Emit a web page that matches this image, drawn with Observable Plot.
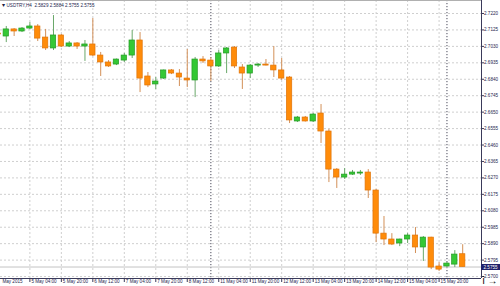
<!DOCTYPE html>
<html>
<head>
<meta charset="utf-8">
<script src="https://cdn.jsdelivr.net/npm/d3@7"></script>
<script src="https://cdn.jsdelivr.net/npm/@observablehq/plot@0.6"></script>
<style>
  html, body { margin: 0; padding: 0; background: #fff; }
  #chart svg { display: block; }
</style>
</head>
<body>
<div id="chart"></div>
<script>
// ---- Data (USDTRY, H4 bars, 4 May 12:00 – 18 May 00:00, 2015) ----
const symbol = "USDTRY,H4";
const opens  = [2.7104,2.7087,2.7128,2.7116,2.7133,2.7145,2.7081,2.7018,2.7093,2.7029,
                2.7047,2.7029,2.7041,2.6977,2.6937,2.6925,2.6948,2.6977,2.7064,2.6856,
                2.6810,2.6844,2.6891,2.6873,2.6844,2.6833,2.6954,2.6948,2.6914,2.6989,
                2.7023,2.6908,2.6873,2.6919,2.6925,2.6919,2.6891,2.6850,2.6596,2.6619,
                2.6596,2.6642,2.6538,2.6318,2.6272,2.6289,2.6295,2.6301,2.6197,2.5948,
                2.5914,2.5891,2.5914,2.5937,2.5868,2.5925,2.5758,2.5758,2.5769,2.5829];
const highs  = [2.7110,2.7145,2.7133,2.7139,2.7168,2.7156,2.7128,2.7208,2.7099,2.7058,
                2.7052,2.7064,2.7191,2.6995,2.6948,2.6957,2.6989,2.7122,2.7110,2.6879,
                2.6850,2.6893,2.6896,2.6896,2.7012,2.6966,2.6971,2.6966,2.7006,2.7023,
                2.7029,2.6925,2.6925,2.6931,2.6954,2.7029,2.6960,2.6856,2.6625,2.6625,
                2.6642,2.6694,2.6550,2.6324,2.6324,2.6313,2.6313,2.6318,2.6203,2.6047,
                2.5948,2.5916,2.5948,2.5983,2.5931,2.5927,2.5781,2.5781,2.5850,2.5884];
const lows   = [2.7093,2.7052,2.7087,2.7110,2.7128,2.7058,2.7006,2.7006,2.7023,2.7023,
                2.7012,2.6943,2.6971,2.6856,2.6908,2.6919,2.6937,2.6960,2.6763,2.6792,
                2.6781,2.6839,2.6867,2.6798,2.6792,2.6734,2.6931,2.6827,2.6908,2.6873,
                2.6902,2.6781,2.6844,2.6908,2.6917,2.6850,2.6833,2.6584,2.6590,2.6593,
                2.6590,2.6469,2.6243,2.6209,2.6261,2.6284,2.6284,2.6151,2.5896,2.5879,
                2.5879,2.5873,2.5891,2.5833,2.5787,2.5740,2.5729,2.5752,2.5752,2.5755];
const closes = [2.7099,2.7128,2.7116,2.7133,2.7145,2.7075,2.7018,2.7093,2.7029,2.7047,
                2.7029,2.7041,2.6977,2.6937,2.6914,2.6954,2.6977,2.7064,2.6844,2.6804,
                2.6827,2.6891,2.6873,2.6850,2.6833,2.6954,2.6943,2.6914,2.6989,2.7018,
                2.6914,2.6873,2.6919,2.6925,2.6919,2.6891,2.6844,2.6602,2.6619,2.6596,
                2.6636,2.6538,2.6318,2.6272,2.6289,2.6301,2.6301,2.6197,2.5948,2.5914,
                2.5885,2.5914,2.5937,2.5868,2.5925,2.5752,2.5740,2.5775,2.5827,2.5755];

const xTickIdx    = [0,4,8,12,16,20,24,28,32,36,40,44,48,52,56];
const xTickLabels = ["May 2015","5 May 04:00","5 May 20:00","6 May 12:00","7 May 04:00",
                     "7 May 20:00","8 May 12:00","11 May 04:00","11 May 20:00","12 May 12:00",
                     "13 May 04:00","13 May 20:00","14 May 12:00","15 May 04:00","15 May 20:00"];
const yTicks = [2.7220,2.7125,2.7030,2.6935,2.6840,2.6745,2.6650,2.6555,2.6460,
                2.6365,2.6270,2.6175,2.6080,2.5985,2.5890,2.5795,2.5700];
const separatorIdx = [27, 57]; // weekly period separators

// ---- Build table ----
const bars = opens.map((o, i) => ({i, o, h: highs[i], l: lows[i], c: closes[i], up: closes[i] >= o}));
const last = bars[bars.length - 1];
const fmt = d3.format(".4f");
const header = `${symbol}  ${fmt(last.o)} ${fmt(last.h)} ${fmt(last.l)} ${fmt(last.c)}`;
const xTicks = xTickIdx.map((i, k) => ({i, label: xTickLabels[k]}));

const W = 500, H = 286, mR = 19, mB = 8;
const xDomain = [0.267, 61.39];
const yDomain = [2.56887, 2.72951];
const pxPerBar = (W - mR) / (xDomain[1] - xDomain[0]);
const font = "Liberation Sans, Arial, sans-serif";
const txt = "#262650";
const navy = "#20206a";
const green = "#35c835", greenEdge = "#249a24", greenWick = "#6aa86a";
const orange = "#ff8c0a", orangeEdge = "#e07408", orangeWick = "#d39058";

const chart = Plot.plot({
  width: W, height: H,
  marginLeft: 0, marginRight: mR, marginTop: 0, marginBottom: mB,
  style: {fontFamily: font, background: "#fff"},
  x: {type: "linear", domain: xDomain, axis: null},
  y: {type: "linear", domain: yDomain, axis: null},
  marks: [
    // grid
    Plot.ruleY(yTicks, {stroke: "#cfcfcf", strokeDasharray: "2,2"}),
    Plot.ruleX(xTickIdx.slice(1), {stroke: "#cfcfcf", strokeDasharray: "2,2"}),
    // period separators
    Plot.ruleX(separatorIdx, {stroke: "#4a4a5a", strokeDasharray: "1.2,1.8"}),
    // current price line
    Plot.ruleY([last.c], {stroke: "#c4c4c4"}),
    // wicks
    Plot.ruleX(bars, {x: "i", y1: "l", y2: "h", stroke: d => d.up ? greenWick : orangeWick, strokeWidth: 1}),
    // bodies
    Plot.rect(bars, {
      x1: d => d.i - 0.34, x2: d => d.i + 0.34,
      y1: d => Math.min(d.o, d.c), y2: d => Math.max(d.o, d.c),
      fill: d => d.up ? green : orange,
      stroke: d => d.up ? greenEdge : orangeEdge, strokeWidth: 0.7
    }),
    // frame lines
    Plot.ruleY([yDomain[0]], {stroke: "#3a3a5a"}),
    Plot.ruleX([xDomain[1]], {stroke: "#3a3a5a"}),
    Plot.ruleY([yDomain[1]], {stroke: "#b0b0b0"}),
    // right price axis
    Plot.axisY(yTicks, {anchor: "right", tickSize: 2, tickPadding: 0.5, tickFormat: fmt,
      fontSize: 4.6, fill: txt, stroke: "#3a3a5a"}),
    // bottom time axis ticks + labels
    Plot.axisX(xTickIdx, {anchor: "bottom", tickSize: 4, tickFormat: () => "", stroke: "#3a3a5a"}),
    Plot.text(xTicks.slice(1), {x: "i", text: "label", frameAnchor: "bottom", dy: 3.2, dx: 1.5,
      textAnchor: "start", lineAnchor: "middle", fontSize: 4.6, fill: txt}),
    Plot.text(xTicks.slice(0, 1), {x: "i", text: "label", frameAnchor: "bottom", dy: 3.2, dx: 4,
      textAnchor: "start", lineAnchor: "middle", fontSize: 4.6, fill: txt}),
    // current price tag
    Plot.ruleY([last.c], {x1: xDomain[1], x2: xDomain[1] + mR / pxPerBar, stroke: navy, strokeWidth: 6}),
    Plot.text([last.c], {y: d => d, text: d => fmt(d), frameAnchor: "right", dx: 2, textAnchor: "start",
      lineAnchor: "middle", fontSize: 4.6, fill: "#fff"}),
    // header
    Plot.text(["\u25BE"], {frameAnchor: "top-left", dx: 1, dy: 5, textAnchor: "start", lineAnchor: "middle",
      fontSize: 6, fill: "#202040"}),
    Plot.text([header], {frameAnchor: "top-left", dx: 6, dy: 5, textAnchor: "start", lineAnchor: "middle",
      fontSize: 4.6, fill: txt})
  ]
});
document.getElementById("chart").appendChild(chart);
</script>
</body>
</html>
